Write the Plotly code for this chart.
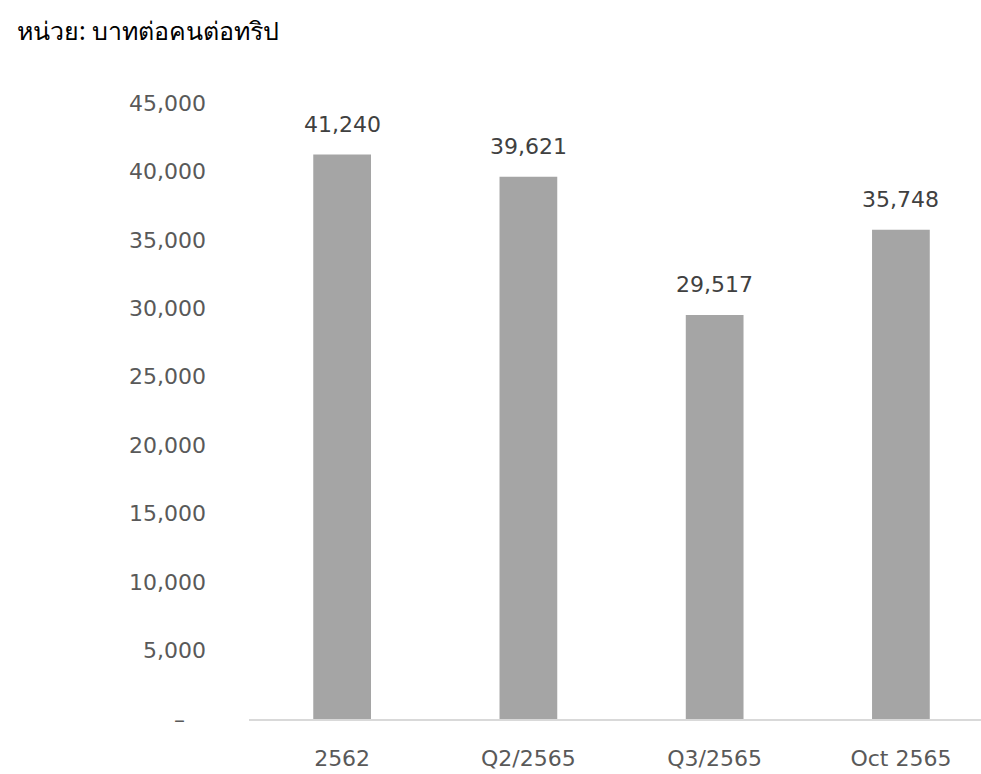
import plotly.graph_objects as go

categories = ["2562", "Q2/2565", "Q3/2565", "Oct 2565"]
values = [41240, 39621, 29517, 35748]
ytick_vals = [0, 5000, 10000, 15000, 20000, 25000, 30000, 35000, 40000, 45000]
ytick_text = ["–\u00a0\u00a0\u00a0", "5,000", "10,000", "15,000", "20,000", "25,000", "30,000", "35,000", "40,000", "45,000"]
title_text = "หน่วย: บาทต่อคนต่อทริป"

FONT = "DejaVu Sans"

fig = go.Figure()
fig.add_trace(go.Bar(
    x=categories, y=values,
    marker=dict(color="#a5a5a5", line=dict(width=0)),
    width=0.31,
    hoverinfo="skip",
))

annotations = [dict(
    text=title_text, xref="paper", yref="paper",
    x=(15 - 249) / (981 - 249), y=(774 - 55 - 30) / (774 - 55 - 103),
    xanchor="left", yanchor="middle", showarrow=False,
    font=dict(family="Noto Sans, Tahoma, sans-serif", size=25, color="#000000"),
)]
for i, v in enumerate(values):
    annotations.append(dict(
        x=i, y=v, xref="x", yref="y", text=f"{v:,}",
        showarrow=False, yanchor="middle", yshift=30,
        font=dict(family=FONT, size=22, color="#404040"),
    ))

fig.update_layout(
    width=981, height=774,
    margin=dict(l=249, r=0, t=103, b=55, autoexpand=False),
    paper_bgcolor="white", plot_bgcolor="white",
    showlegend=False,
    font=dict(family=FONT, color="#595959"),
    annotations=annotations,
)

fig.update_xaxes(
    type="category", range=[-0.5, 3.43],
    showline=True, linecolor="#d9d9d9", linewidth=2,
    showgrid=False, zeroline=False, ticks="",
    tickfont=dict(family=FONT, size=22, color="#595959"),
    ticklabelstandoff=19, automargin=False,
)
fig.update_yaxes(
    range=[0, 45000],
    tickvals=ytick_vals, ticktext=ytick_text,
    showgrid=False, zeroline=False, showline=False, ticks="",
    tickfont=dict(family=FONT, size=22, color="#595959"),
    ticklabelstandoff=42, automargin=False,
)

fig.write_html("out.html")
